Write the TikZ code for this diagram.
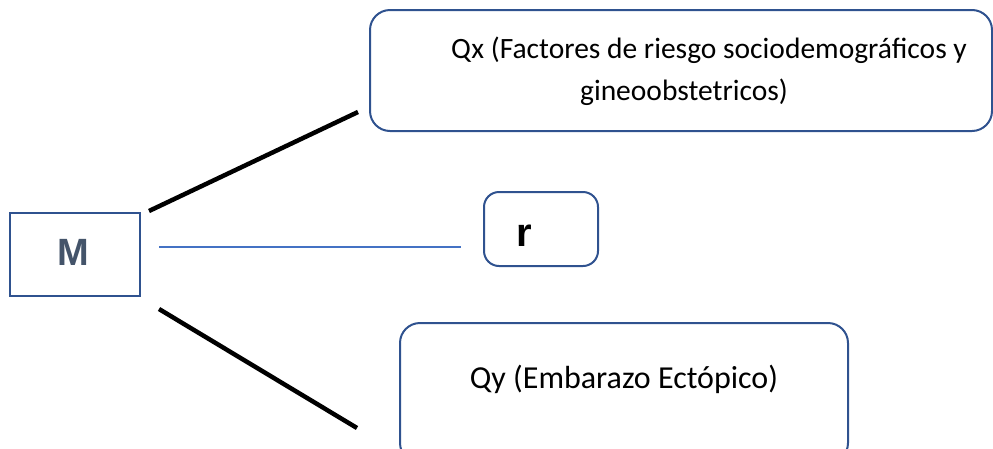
\documentclass[tikz,border=0pt]{standalone}
\usepackage{fontspec}
\setmainfont{Carlito}
\newfontfamily\arialfont{Liberation Sans}
\usetikzlibrary{positioning}
\definecolor{boxblue}{RGB}{47,82,143}
\definecolor{lineblue}{RGB}{68,114,196}
\definecolor{mgray}{RGB}{68,84,106}

\begin{document}
\begin{tikzpicture}[x=1pt, y=-1pt]
		\tikzset{box/.style={draw=boxblue, line width=2pt, rounded corners=20pt, inner sep=0}}
		\tikzset{ln/.style={draw=black, line width=4.5pt}}
		\tikzset{txt/.style={font=\fontsize{29.5}{42}\selectfont, align=center, inner sep=0}}
		\useasboundingbox (0,0) rectangle (993,448);
		% boxes
		\node[box, rounded corners=0pt, minimum width=130pt, minimum height=83pt] at (75,254.5) (m) {};
		\node[box, minimum width=622pt, minimum height=121pt] at (681,70.5) (qx) {};
		\node[box, rounded corners=15pt, minimum width=114pt, minimum height=74pt] at (541,229) (r) {};
		\node[box, minimum width=448pt, minimum height=140pt] at (624,393) (qy) {};
		% texts
		\node[font=\arialfont\bfseries\fontsize{38}{38}\selectfont, text=mgray] at (73,252) (mt) {M};
		\node[font=\arialfont\bfseries\fontsize{40}{40}\selectfont] at (524,236) (rt) {r};
		\node[txt] at (709,71.5) (qxt) {Qx (Factores de riesgo sociodemográficos y\\gineoobstetricos)\hspace*{50pt}};
		\node[txt, font=\fontsize{32}{42}\selectfont] at (624,379) (qyt) {Qy (Embarazo Ectópico)};
		% line ends
		\coordinate (m1) at (149,211);
		\coordinate (qx1) at (358,112);
		\coordinate (m2) at (159,247);
		\coordinate (r1) at (461,247);
		\coordinate (m3) at (159,309);
		\coordinate (qy1) at (357,428);
		\draw[ln] (m1) -- (qx1);
		\draw[lineblue, line width=1.2pt] (m2) -- (r1);
		\draw[ln] (m3) -- (qy1);
	\end{tikzpicture}
\end{document}
